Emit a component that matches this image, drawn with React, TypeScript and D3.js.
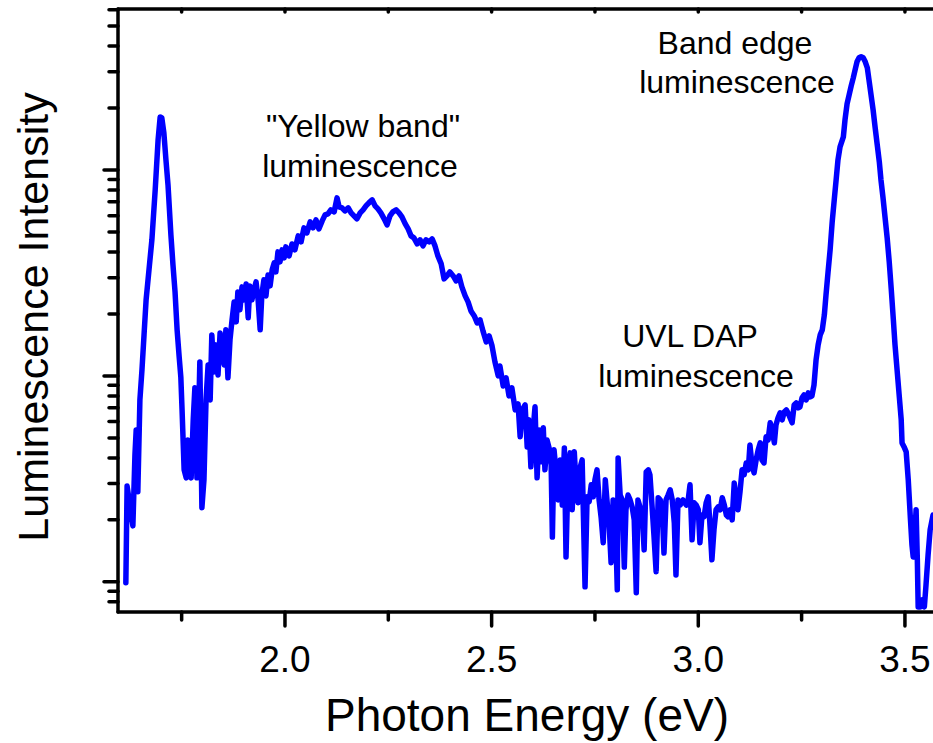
import React from "react";
import * as d3 from "d3";

// Photoluminescence spectrum: [photon energy (eV), intensity (a.u., log scale)]
const spectrum: [number, number][] = [
  [1.615,99],[1.618,292],[1.632,187],[1.637,414],[1.640,547],[1.644,274],[1.649,765],[1.654,1070],[1.659,1582],[1.664,2340],
  [1.671,3274],[1.678,4580],[1.686,8008],[1.693,14000],[1.698,18100],[1.702,17900],[1.707,15140],[1.712,11200],[1.717,8460],[1.724,4840],
  [1.729,3460],[1.734,2559],[1.739,1674],[1.744,1237],[1.748,989],[1.751,684],[1.756,350],[1.761,320],[1.765,489],[1.768,331],
  [1.773,320],[1.778,612],[1.782,875],[1.787,320],[1.792,765],[1.794,1170],[1.799,229],[1.804,313],[1.809,765],[1.814,1131],
  [1.819,765],[1.823,1582],[1.828,1046],[1.833,1415],[1.838,1010],[1.843,1618],[1.848,1309],[1.853,1131],[1.857,1674],[1.862,979],
  [1.867,1497],[1.872,1872],[1.877,2288],[1.882,1830],[1.886,2559],[1.891,2093],[1.896,2706],[1.901,2340],[1.906,2797],[1.911,1914],
  [1.915,2736],[1.920,2340],[1.925,2618],[1.930,2862],[1.935,2340],[1.940,1674],[1.944,2473],[1.949,2928],[1.954,2446],[1.959,3094],
  [1.964,2736],[1.969,3274],[1.974,3539],[1.978,3200],[1.983,4002],[1.988,3579],[1.993,4094],[1.998,3744],[2.002,4232],[2.010,3826],
  [2.017,4374],[2.024,4094],[2.032,4785],[2.039,4476],[2.046,5235],[2.053,4950],[2.061,5597],[2.068,5235],[2.075,5726],[2.082,5175],
  [2.090,5660],[2.097,6050],[2.104,6120],[2.111,6403],[2.119,6259],[2.126,7322],[2.131,6619],[2.138,6547],[2.145,6328],[2.153,6547],
  [2.160,6190],[2.167,5983],[2.174,5787],[2.182,6190],[2.189,6403],[2.196,6691],[2.203,6922],[2.211,7161],[2.218,6691],[2.225,6472],
  [2.232,6190],[2.240,5787],[2.247,5410],[2.254,5983],[2.261,6259],[2.269,6403],[2.276,6190],[2.283,5919],[2.291,5470],[2.298,5175],
  [2.305,4785],[2.312,4682],[2.320,4374],[2.327,4580],[2.334,4278],[2.341,4580],[2.349,4476],[2.356,4628],[2.363,4278],[2.370,3826],
  [2.378,3498],[2.385,2959],[2.392,3059],[2.399,3200],[2.407,3059],[2.414,2894],[2.421,3059],[2.428,2706],[2.436,2446],[2.443,2288],
  [2.450,2069],[2.458,1956],[2.465,1809],[2.472,1872],[2.479,1654],[2.487,1463],[2.494,1564],[2.501,1399],[2.508,1170],[2.516,1000],
  [2.520,1118],[2.528,894],[2.535,979],[2.542,800],[2.549,875],[2.557,684],[2.564,731],[2.569,506],[2.574,684],[2.581,723],
  [2.586,452],[2.590,612],[2.595,362],[2.600,535],[2.605,708],[2.610,320],[2.615,547],[2.620,383],[2.625,560],[2.629,350],
  [2.634,489],[2.639,447],[2.644,370],[2.647,165],[2.651,438],[2.656,342],[2.661,250],[2.666,391],[2.671,236],[2.676,447],
  [2.680,132],[2.685,350],[2.690,423],[2.695,224],[2.700,428],[2.704,306],[2.709,242],[2.714,358],[2.719,391],[2.726,94.6],
  [2.731,259],[2.736,245],[2.741,296],[2.746,259],[2.750,313],[2.755,350],[2.760,250],[2.765,205],[2.770,155],[2.775,313],
  [2.779,250],[2.784,196],[2.789,124],[2.794,250],[2.799,224],[2.804,91.5],[2.806,400],[2.811,264],[2.816,250],[2.821,118],
  [2.825,224],[2.830,264],[2.835,250],[2.840,231],[2.845,200],[2.850,88.5],[2.854,250],[2.859,231],[2.864,219],[2.869,143],
  [2.874,342],[2.879,350],[2.883,331],[2.888,236],[2.893,165],[2.898,112],[2.903,256],[2.908,250],[2.913,219],[2.917,138],
  [2.922,250],[2.927,264],[2.932,280],[2.937,250],[2.942,193],[2.946,108],[2.951,250],[2.956,236],[2.963,250],[2.971,236],
  [2.975,245],[2.980,296],[2.985,160],[2.990,242],[2.995,236],[3.000,224],[3.004,155],[3.009,211],[3.014,207],[3.019,242],
  [3.024,259],[3.029,179],[3.033,128],[3.038,179],[3.043,224],[3.048,231],[3.053,224],[3.058,256],[3.063,236],[3.068,211],
  [3.072,207],[3.077,224],[3.082,200],[3.087,302],[3.092,250],[3.096,224],[3.101,274],[3.106,350],[3.111,331],[3.116,378],
  [3.121,350],[3.125,462],[3.130,370],[3.135,338],[3.140,391],[3.145,438],[3.150,473],[3.154,391],[3.159,378],[3.164,506],
  [3.169,489],[3.174,592],[3.179,547],[3.184,473],[3.188,578],[3.193,626],[3.198,662],[3.203,612],[3.208,669],[3.213,684],
  [3.217,662],[3.222,626],[3.227,592],[3.232,723],[3.237,740],[3.242,700],[3.246,708],[3.251,783],[3.256,809],[3.261,765],
  [3.266,827],[3.271,791],[3.275,800],[3.280,904],[3.285,1197],[3.290,1415],[3.295,1582],[3.300,1674],[3.305,1978],[3.309,2473],
  [3.314,3200],[3.319,4094],[3.324,5597],[3.329,7161],[3.334,9157],[3.338,11200],[3.343,12940],[3.351,14480],[3.355,17510],[3.360,20930],
  [3.365,23140],[3.370,25590],[3.375,28010],[3.380,30960],[3.384,33490],[3.389,35030],[3.394,35420],[3.399,35030],[3.404,33490],[3.409,31320],
  [3.413,27400],[3.418,23140],[3.423,19590],[3.428,16010],[3.433,13230],[3.438,10950],[3.442,8955],[3.447,7322],[3.452,5855],[3.457,4682],
  [3.462,3579],[3.467,2618],[3.472,1872],[3.476,1415],[3.481,1070],[3.486,809],[3.491,612],[3.493,473],[3.498,452],[3.503,428],
  [3.508,313],[3.513,207],[3.517,151],[3.520,132],[3.525,189],[3.527,224],[3.530,128],[3.532,75.6],[3.537,75.6],[3.542,81.8],
  [3.547,75.6],[3.551,96.7],[3.556,135],[3.561,179],[3.568,211],
];

const xDomain: [number, number] = [1.596, 3.58];
const yDomain: [number, number] = [71.4, 60480];
const xMajorTicks = [2.0, 2.5, 3.0, 3.5];
const xMinorTicks = [1.75, 2.25, 2.75, 3.25];
const yMajorTicks = [100, 1000, 10000];

const FONT = "'Liberation Sans', Arial, Helvetica, sans-serif";

export default function App() {
  const W = 933;
  const H = 743;
  const left = 118, right = 938, top = 9, bottom = 612;

  const x = d3.scaleLinear().domain(xDomain).range([left, right]);
  const y = d3.scaleLog().domain(yDomain).range([bottom, top]);

  const line = d3
    .line<[number, number]>()
    .x((d) => x(d[0]))
    .y((d) => y(d[1]));

  const yAll = y.ticks();
  const yMinor = yAll.filter((t) => !yMajorTicks.some((m) => Math.abs(m - t) < 1e-6));
  const fmt = d3.format(".1f");
  const axisW = 3.5;

  return (
    <svg
      width={W}
      height={H}
      style={{ position: "absolute", left: 0, top: 0, background: "#fff" }}
      fontFamily={FONT}
    >
      <defs>
        <clipPath id="plotclip">
          <rect x={left} y={top} width={right - left} height={bottom - top} />
        </clipPath>
      </defs>
      <rect x={0} y={0} width={W} height={H} fill="#fff" />

      <path
        d={line(spectrum) || ""}
        fill="none"
        stroke="#0000ff"
        strokeWidth={5.5}
        strokeLinejoin="round"
        strokeLinecap="round"
        clipPath="url(#plotclip)"
      />

      {/* frame */}
      <g stroke="#000" strokeWidth={axisW} strokeLinecap="round" fill="none">
        <line x1={left} y1={top} x2={left} y2={bottom} />
        <line x1={left} y1={bottom} x2={right} y2={bottom} />
        <line x1={left} y1={top} x2={right} y2={top} />
        <line x1={right} y1={top} x2={right} y2={bottom} />
      </g>

      {/* y ticks */}
      <g stroke="#000" strokeWidth={3.5} strokeLinecap="round">
        {yMajorTicks.map((t) => (
          <line key={"ym" + t} x1={left - 14} x2={left} y1={y(t)} y2={y(t)} />
        ))}
        {yMinor.map((t) => (
          <line key={"yn" + t} x1={left - 9} x2={left} y1={y(t)} y2={y(t)} />
        ))}
      </g>

      {/* x ticks */}
      <g stroke="#000" strokeWidth={3.5} strokeLinecap="round">
        {xMajorTicks.map((t) => (
          <line key={"xm" + t} x1={x(t)} x2={x(t)} y1={bottom} y2={bottom + 14} />
        ))}
        {xMinorTicks.map((t) => (
          <line key={"xn" + t} x1={x(t)} x2={x(t)} y1={bottom} y2={bottom + 8} />
        ))}
        {[...xMajorTicks, ...xMinorTicks].map((t) => (
          <line key={"xt" + t} x1={x(t)} x2={x(t)} y1={top} y2={top + 3} />
        ))}
      </g>

      {/* x tick labels */}
      {xMajorTicks.map((t) => (
        <text key={"xl" + t} x={x(t)} y={672} textAnchor="middle" fontSize={37} fill="#000">
          {fmt(t)}
        </text>
      ))}

      {/* axis titles */}
      <text x={527} y={731} textAnchor="middle" fontSize={46} fill="#000">
        Photon Energy (eV)
      </text>
      <text
        transform="translate(48,317) rotate(-90)"
        textAnchor="middle"
        fontSize={43}
        fill="#000"
      >
        Luminescence Intensity
      </text>

      {/* annotations */}
      <g fontSize={32} fill="#000" textAnchor="middle">
        <text x={363} y={137}>"Yellow band"</text>
        <text x={360} y={177}>luminescence</text>
        <text x={735} y={54}>Band edge</text>
        <text x={737} y={93}>luminescence</text>
        <text x={690} y={347}>UVL DAP</text>
        <text x={696} y={387}>luminescence</text>
      </g>
    </svg>
  );
}
